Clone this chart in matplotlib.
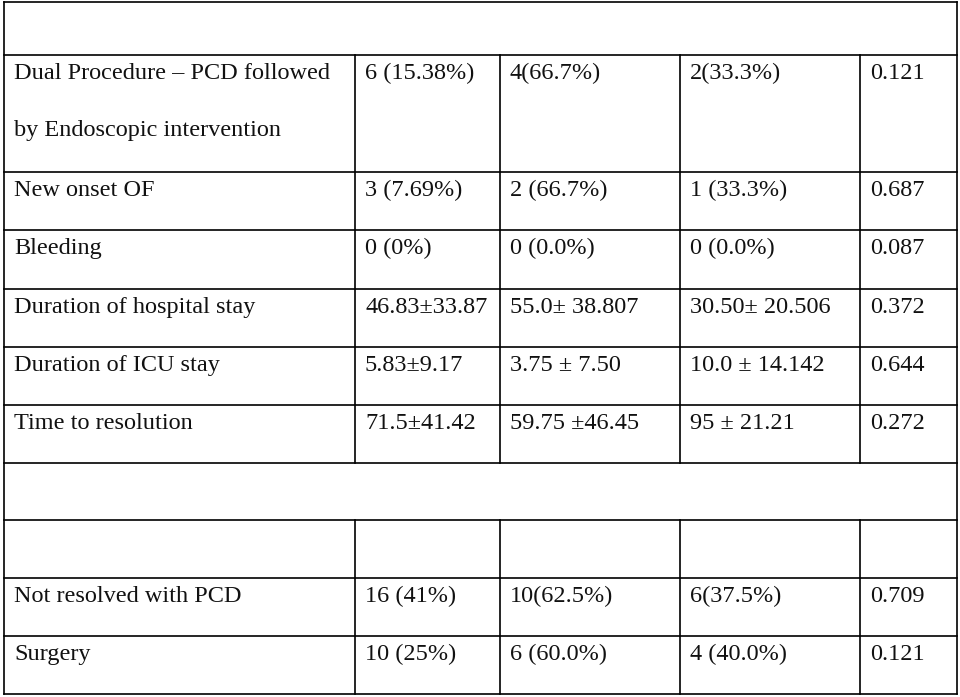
import matplotlib.pyplot as plt

labels = ["Dual Procedure \u2013 PCD followed", "New onset OF", "Bleeding",
          "Duration of hospital stay", "Duration of ICU stay", "Time to resolution",
          None, "Not resolved with PCD", "Surgery", "Mortality before surgery"]
label2 = "by Endoscopic intervention"
col1 = ["6 (15.38%)", "3 (7.69%)", "0 (0%)", "46.83\u00b133.87", "5.83\u00b19.17", "71.5\u00b141.42",
        None, "16 (41%)", "10 (25%)", "6 (15%)"]
col2 = ["4(66.7%)", "2 (66.7%)", "0 (0.0%)", "55.0\u00b1 38.807", "3.75 \u00b1 7.50", "59.75 \u00b146.45",
        None, "10(62.5%)", "6 (60.0%)", "4 (66.7%)"]
col3 = ["2(33.3%)", "1 (33.3%)", "0 (0.0%)", "30.50\u00b1 20.506", "10.0 \u00b1 14.142", "95 \u00b1 21.21",
        None, "6(37.5%)", "4 (40.0%)", "2 (33.3%)"]
pvals = ["0.121", "0.687", "0.087", "0.372", "0.644", "0.272", None, "0.709", "0.121", "0.121"]

xs = [4, 355, 500, 680, 860, 957]
ys = [2, 55, 172, 230, 289, 347, 405, 463, 520, 578, 636, 694]

fig = plt.figure(figsize=(9.6, 6.97), dpi=100)
ax = fig.add_axes([0, 0, 1, 1])
ax.set_xlim(0, 960)
ax.set_ylim(697, 0)
ax.axis('off')

for y in ys:
    ax.plot([xs[0], xs[-1]], [y, y], color='black', lw=1.2)
ax.plot([xs[0], xs[0]], [ys[0], ys[-1]], color='black', lw=1.2)
ax.plot([xs[-1], xs[-1]], [ys[0], ys[-1]], color='black', lw=1.2)
# inner verticals skip the two spanning rows
for x in xs[1:-1]:
    ax.plot([x, x], [ys[1], ys[7]], color='black', lw=1.2)
    ax.plot([x, x], [ys[8], ys[-1]], color='black', lw=1.2)

fs = 17.5
cols = [labels, col1, col2, col3, pvals]
for i in range(len(labels)):
    if labels[i] is None:
        continue
    r = i if i < 6 else i + 1
    ytop = ys[r + 1] + 8
    for j, c in enumerate(cols):
        ax.text(xs[j] + 10, ytop, c[i], fontsize=fs, family='Liberation Serif',
                va='top', ha='left', color='#111111')
ax.text(xs[0] + 10, ys[1] + 65, label2, fontsize=fs, family='Liberation Serif',
        va='top', ha='left', color='#111111')

fig.savefig('out.png', dpi=100)
